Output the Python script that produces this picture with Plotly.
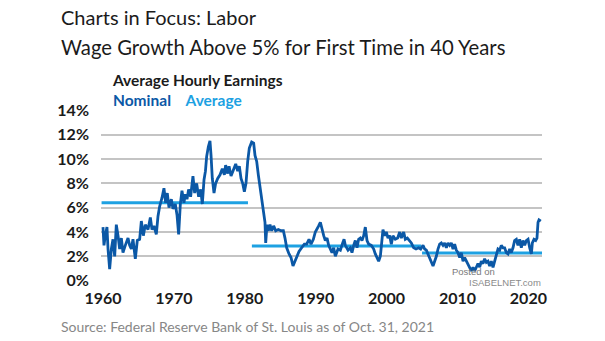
import plotly.graph_objects as go

# ---- data ----
nominal_years = [
    1960.00, 1960.14, 1960.33, 1960.56, 1960.71, 1960.94, 1961.18, 1961.41, 1961.65, 1961.88,
    1962.12, 1962.35, 1962.59, 1962.82, 1963.15, 1963.53, 1963.76, 1964.00, 1964.23, 1964.56,
    1964.84, 1965.17, 1965.41, 1965.69, 1965.97, 1966.35, 1966.68, 1966.91, 1967.19, 1967.52,
    1967.76, 1967.99, 1968.32, 1968.60, 1968.84, 1969.07, 1969.31, 1969.64, 1969.87, 1970.20,
    1970.44, 1970.67, 1970.91, 1971.14, 1971.42, 1971.61, 1971.85, 1972.08, 1972.36, 1972.69,
    1972.93, 1973.21, 1973.49, 1973.78, 1974.01, 1974.25, 1974.45, 1974.62, 1974.86, 1975.09,
    1975.24, 1975.42, 1975.66, 1975.89, 1976.18, 1976.51, 1976.83, 1977.12, 1977.30, 1977.59,
    1977.78, 1978.06, 1978.39, 1978.72, 1979.00, 1979.23, 1979.47, 1979.70, 1979.94, 1980.17,
    1980.41, 1980.64, 1980.97, 1981.25, 1981.44, 1981.68, 1981.91, 1982.15, 1982.38, 1982.62,
    1982.85, 1982.95, 1983.13, 1983.32, 1983.56, 1983.79, 1984.07, 1984.36, 1984.73, 1985.11,
    1985.44, 1985.67, 1985.91, 1986.24, 1986.52, 1986.80, 1987.08, 1987.37, 1987.65, 1988.02,
    1988.40, 1988.73, 1989.06, 1989.34, 1989.67, 1989.95, 1990.19, 1990.42, 1990.66, 1990.89,
    1991.13, 1991.36, 1991.60, 1991.83, 1992.07, 1992.30, 1992.54, 1992.77, 1993.15, 1993.48,
    1993.81, 1994.00, 1994.18, 1994.56, 1994.89, 1995.12, 1995.36, 1995.59, 1995.83, 1996.06,
    1996.30, 1996.53, 1996.77, 1997.00, 1997.24, 1997.47, 1997.85, 1998.18, 1998.41, 1998.65,
    1998.88, 1999.12, 1999.35, 1999.49, 1999.73, 1999.96, 2000.20, 2000.43, 2000.67, 2000.90,
    2001.23, 2001.56, 2001.85, 2002.08, 2002.41, 2002.64, 2002.93, 2003.21, 2003.49, 2003.82,
    2004.15, 2004.52, 2004.81, 2005.14, 2005.37, 2005.61, 2005.84, 2006.08, 2006.31, 2006.55,
    2006.78, 2007.02, 2007.25, 2007.49, 2007.72, 2007.96, 2008.19, 2008.43, 2008.66, 2008.90,
    2009.13, 2009.37, 2009.60, 2009.84, 2010.07, 2010.31, 2010.54, 2010.78, 2011.01, 2011.25,
    2011.48, 2011.72, 2011.95, 2012.19, 2012.42, 2012.66, 2012.89, 2013.13, 2013.36, 2013.60,
    2013.83, 2014.07, 2014.30, 2014.54, 2014.77, 2015.01, 2015.24, 2015.48, 2015.71, 2015.95,
    2016.18, 2016.42, 2016.65, 2016.89, 2017.12, 2017.36, 2017.59, 2017.83, 2018.06, 2018.30,
    2018.53, 2018.77, 2019.00, 2019.24, 2019.48, 2019.71, 2019.95, 2020.18, 2020.42, 2020.56,
    2020.79, 2021.03, 2021.21, 2021.36, 2021.50, 2021.75,
]
nominal_values = [
    4.4, 2.9, 3.7, 4.4, 2.6, 0.95, 2.6, 3.4, 2.0, 4.6,
    3.7, 2.6, 3.5, 2.3, 2.9, 3.5, 2.9, 2.6, 3.4, 1.8,
    3.3, 3.4, 4.9, 3.7, 4.6, 4.2, 5.2, 4.2, 4.5, 3.8,
    5.3, 6.1, 6.8, 7.6, 6.4, 7.2, 6.0, 6.7, 5.9, 6.3,
    5.4, 3.8, 6.3, 7.4, 6.4, 7.1, 6.7, 7.5, 6.9, 8.6,
    7.2, 8.0, 6.9, 7.5, 6.3, 8.3, 9.0, 10.2, 11.0, 11.5,
    10.3, 8.4, 7.2, 8.0, 8.4, 8.7, 9.2, 8.7, 9.5, 8.8,
    9.4, 8.6, 9.1, 9.6, 9.0, 9.4, 8.4, 8.0, 7.3, 8.0,
    9.8, 10.9, 11.4, 11.3, 10.3, 9.8, 8.7, 7.6, 6.5, 5.4,
    4.8, 3.1, 4.6, 4.1, 4.6, 4.1, 4.5, 4.1, 4.2, 4.1,
    4.1, 3.5, 2.7, 2.2, 1.9, 1.2, 1.6, 2.0, 2.4, 2.7,
    3.0, 3.0, 3.4, 3.0, 3.4, 4.0, 4.2, 4.5, 4.8, 4.2,
    3.7, 3.3, 3.5, 2.9, 2.6, 2.3, 2.7, 2.0, 2.6, 2.5,
    3.1, 3.4, 2.9, 2.5, 2.7, 2.3, 2.9, 3.3, 2.7, 3.4,
    3.5, 3.3, 3.7, 4.4, 3.3, 3.0, 2.9, 2.6, 2.2, 1.8,
    1.6, 2.0, 3.1, 4.2, 3.7, 4.0, 3.5, 3.7, 3.0, 3.7,
    3.4, 3.5, 4.0, 3.5, 4.0, 3.4, 3.5, 3.3, 3.1, 2.7,
    2.6, 2.7, 2.6, 2.9, 2.6, 2.5, 2.2, 1.9, 1.6, 1.2,
    1.6, 2.0, 2.6, 3.0, 3.1, 2.9, 3.1, 2.7, 3.1, 2.9,
    3.1, 2.6, 3.0, 2.5, 2.3, 1.9, 2.3, 1.6, 1.9, 1.6,
    1.4, 1.1, 0.8, 1.1, 0.8, 1.1, 1.4, 1.1, 1.6, 1.4,
    1.8, 1.5, 1.6, 1.2, 1.6, 1.1, 1.6, 2.0, 2.6, 2.5,
    2.9, 2.7, 2.7, 2.3, 2.2, 2.6, 2.3, 2.7, 3.3, 3.4,
    2.9, 3.4, 2.7, 3.3, 2.9, 3.3, 3.4, 2.7, 2.2, 3.1,
    3.4, 3.3, 3.5, 4.8, 5.0, 4.9,
]

avg_starts = [1959.8, 1981.0, 2005.0]
avg_ends = [1980.45, 2004.85, 2021.92]
avg_values = [6.4, 2.85, 2.28]

x_ticks = [1960, 1970, 1980, 1990, 2000, 2010, 2020]
x_tick_labels = ["1960", "1970", "1980", "1990", "2000", "2010", "2020"]
y_ticks = [0, 2, 4, 6, 8, 10, 12, 14]
y_tick_labels = ["0%", "2%", "4%", "6%", "8%", "10%", "12%", "14%"]

NOMINAL_COLOR = "#0b58a6"
AVG_COLOR = "#1da1e2"
TEXT = "#1b1b1b"

fig = go.Figure()
for x0, x1, v in zip(avg_starts, avg_ends, avg_values):
    fig.add_trace(go.Scatter(x=[x0, x1], y=[v, v], mode="lines",
                             line=dict(color=AVG_COLOR, width=3), hoverinfo="skip"))
fig.add_trace(go.Scatter(x=nominal_years, y=nominal_values, mode="lines",
                         line=dict(color=NOMINAL_COLOR, width=2.8), hoverinfo="skip"))

W, H = 605, 341
L, R, T, B = 101, 63, 110, 60
PW, PH = W - L - R, H - T - B


def px(xp):
    return (xp - L) / PW


def py(yp):
    return (H - B - yp) / PH


tick_font = dict(family="Lato", size=16, color=TEXT, weight="bold")

fig.update_layout(
    width=W, height=H,
    margin=dict(l=L, r=R, t=T, b=B, pad=0),
    paper_bgcolor="white", plot_bgcolor="white",
    showlegend=False,
    xaxis=dict(range=[1959.72, 2021.92], tickvals=x_ticks, ticktext=x_tick_labels,
               showgrid=False, zeroline=False, showline=False, ticks="",
               tickfont=tick_font, ticklabelstandoff=6, fixedrange=True),
    yaxis=dict(range=[-0.03, 14.03], tickvals=y_ticks, ticktext=y_tick_labels,
               showgrid=True, gridcolor="#c4c4c4", gridwidth=1.5,
               zeroline=False, showline=False, ticks="",
               tickfont=tick_font, ticklabelstandoff=11, fixedrange=True),
)

ann = []


def add_text(text, xp, yp, size, color, bold=False, family="Lato", xanchor="left"):
    ann.append(dict(text=text, x=px(xp), y=py(yp), xref="paper", yref="paper",
                    xanchor=xanchor, yanchor="middle", align="left", showarrow=False,
                    font=dict(family=family, size=size, color=color,
                              weight="bold" if bold else "normal")))


add_text("Charts in Focus: Labor", 59, 17, 20, TEXT)
add_text("Wage Growth Above 5% for First Time in 40 Years", 59, 47, 20.3, TEXT)
legend_block = (
    "Average Hourly Earnings<br>"
    f"<span style='color:{NOMINAL_COLOR}'>Nominal</span>&nbsp;&nbsp;&nbsp;&nbsp;"
    f"<span style='color:{AVG_COLOR}'>Average</span>"
)
add_text(legend_block, 110, 90, 15.5, TEXT, bold=True)
add_text("Source: Federal Reserve Bank of St. Louis as of Oct. 31, 2021", 59, 326, 14, "#878787")
add_text("Posted on", 450, 271, 9.5, "#7a7a7a", family="Arial")
add_text("ISABELNET.com", 467, 282.5, 9.5, "#8a8a8a", family="Arial")

fig.update_layout(annotations=ann)
fig.write_html("out.html")
